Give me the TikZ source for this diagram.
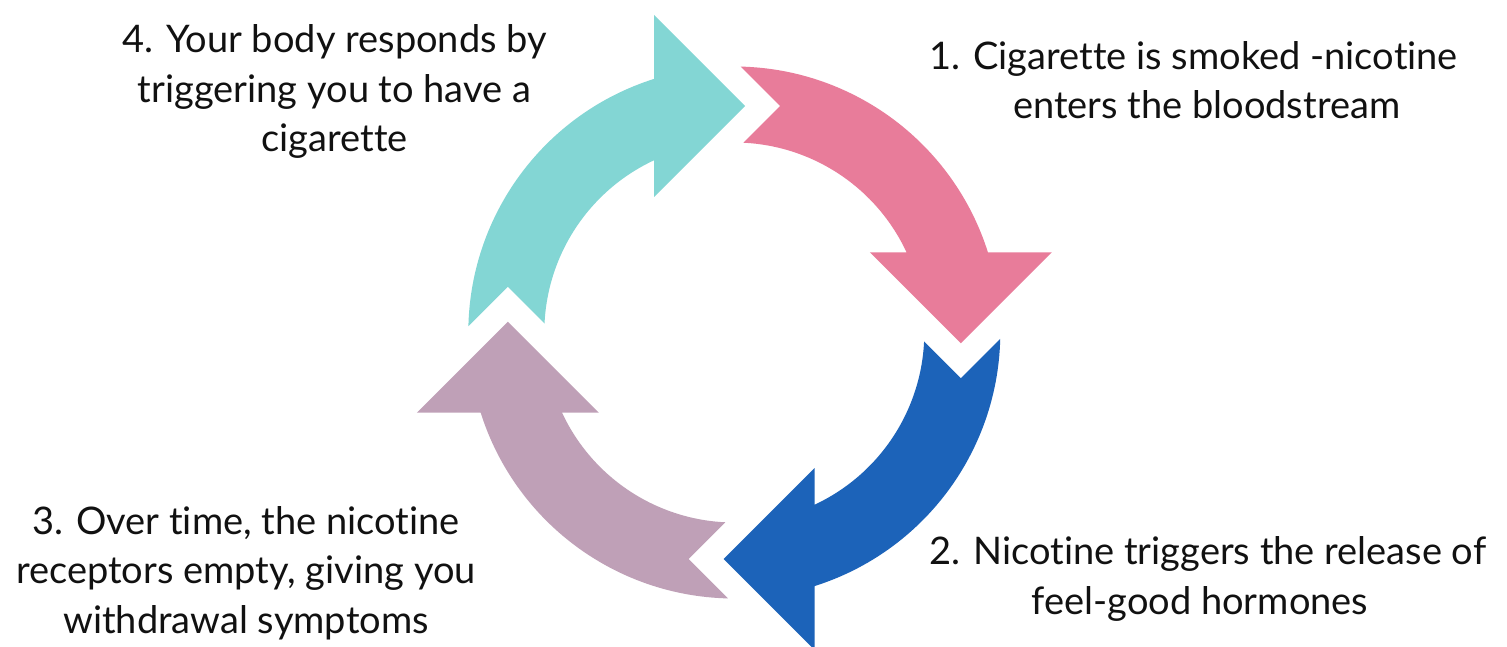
\documentclass[tikz,border=0pt]{standalone}
\usepackage{fontspec}
\setmainfont{Lato}[Ligatures=NoCommon]
\definecolor{pinkc}{RGB}{232,124,154}
\definecolor{bluec}{RGB}{28,99,185}
\definecolor{mauvec}{RGB}{191,160,183}
\definecolor{tealc}{RGB}{131,214,212}
\definecolor{textc}{RGB}{17,17,17}
\tikzset{
  label text/.style={font=\fontsize{38}{49.5}\selectfont, text=textc, align=center, inner sep=0pt, anchor=base},
}
\begin{document}
\begin{tikzpicture}
\useasboundingbox (0,0) rectangle (1507pt,646pt);
\fill[white] (0,0) rectangle (1507pt,646pt);
\coordinate (C) at (734.3pt,313.5pt);
\foreach \k/\c in {0/pinkc,1/bluec,2/mauvec,3/tealc}{
  \begin{scope}[shift={(C)}, rotate=-90*\k]
    \fill[\c] (88.64:266pt) arc[start angle=88.64, end angle=17.55, radius=266pt]
      -- (317.5pt,80.2pt) -- (226.5pt,-10.8pt) -- (135.5pt,80.2pt)
      -- (24.97:190pt) arc[start angle=24.97, end angle=87.29, radius=190pt]
      -- (45.7pt,226.5pt) -- cycle;
  \end{scope}
}
\node[label text] (t1) at (1206.7pt,527pt) {1. Cigarette is smoked -nicotine\hspace*{26pt}\\enters the bloodstream};
\node[label text] (t2) at (1208pt,31.7pt) {2. Nicotine triggers the release of\\feel-good hormones\hspace*{16pt}};
\node[label text] (t3) at (246pt,13pt) {3. Over time, the nicotine\\receptors empty, giving you\\withdrawal symptoms};
\node[label text] (t4) at (334.5pt,494pt) {4. Your body responds by\\triggering you to have a\\cigarette};
\end{tikzpicture}
\end{document}
